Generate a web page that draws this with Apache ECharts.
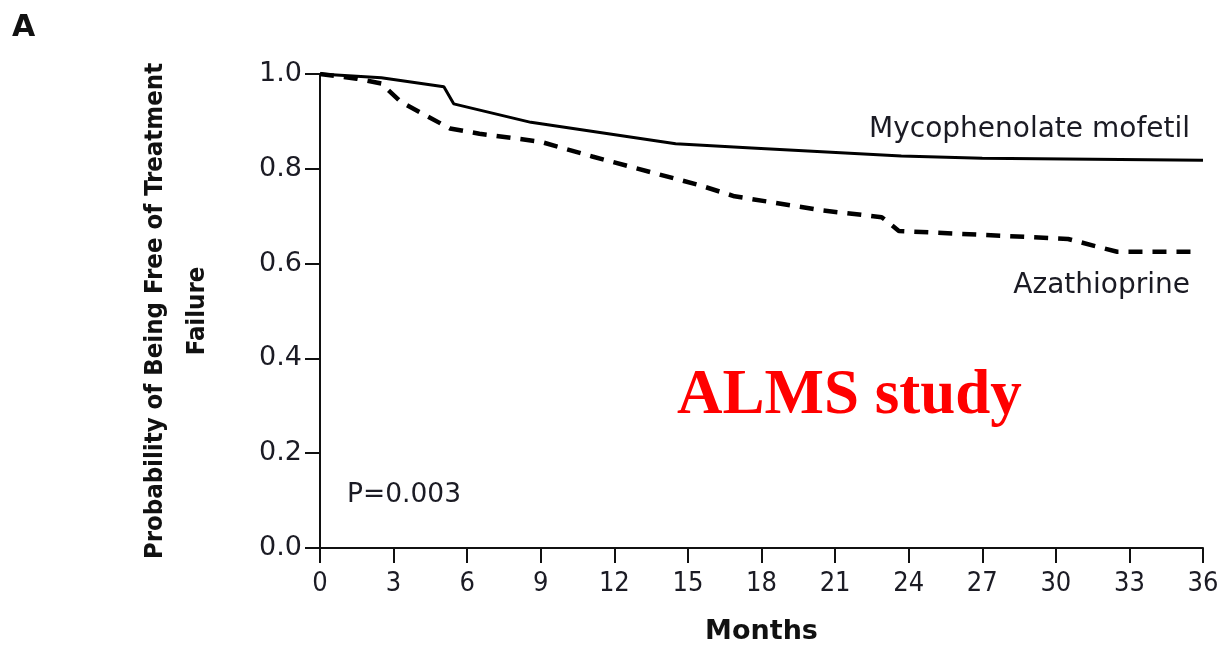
<!DOCTYPE html>
<html>
<head>
<meta charset="utf-8">
<script src="https://cdn.jsdelivr.net/npm/echarts@6/dist/echarts.min.js"></script>
<style>
  html, body { margin: 0; padding: 0; background: #fff; }
  #chart { width: 1222px; height: 650px; }
</style>
</head>
<body>
<div id="chart"></div>
<script>
// Kaplan-Meier style curves: [month, probability free of treatment failure]
const mycophenolate = [
  [0, 1.0], [2.5, 0.992], [5.05, 0.973], [5.45, 0.937], [8.6, 0.898],
  [14.5, 0.853], [17.6, 0.844], [23.7, 0.827], [27, 0.822], [36, 0.818]
];
const azathioprine = [
  [0, 1.0], [1.5, 0.99], [2.5, 0.98], [3.3, 0.941], [5.3, 0.885],
  [6.5, 0.874], [9.0, 0.857], [11.1, 0.826], [15.5, 0.765], [16.9, 0.742],
  [20.5, 0.712], [22.9, 0.698], [23.6, 0.669], [30.5, 0.652], [31.6, 0.637],
  [32.5, 0.625], [35.5, 0.625]
];
const seriesNames = ['Mycophenolate mofetil', 'Azathioprine'];
const xTicks = { min: 0, max: 36, step: 3 };
const yTicks = { min: 0, max: 1, step: 0.2 };

const inkColor = '#1b1b24';
const narrow = '"DejaVu Sans Condensed", "Liberation Sans Narrow", "Liberation Sans", sans-serif';
const chart = echarts.init(document.getElementById('chart'), null, { renderer: 'canvas' });

chart.setOption({
  animation: false,
  backgroundColor: '#ffffff',
  grid: { left: 320, right: 19, top: 74, bottom: 99 },
  xAxis: {
    type: 'value',
    min: xTicks.min, max: xTicks.max, interval: xTicks.step,
    name: 'Months',
    nameLocation: 'middle',
    nameGap: 70,
    nameTextStyle: { fontFamily: 'DejaVu Sans', fontWeight: 'bold', fontSize: 27, color: '#111' },
    axisLine: { lineStyle: { color: '#111', width: 2 } },
    axisTick: { length: 15, lineStyle: { color: '#111', width: 2 } },
    axisLabel: { fontFamily: narrow, fontSize: 27, color: inkColor, margin: 22 },
    splitLine: { show: false }
  },
  yAxis: {
    type: 'value',
    min: yTicks.min, max: yTicks.max, interval: yTicks.step,
    name: 'Probability of Being Free of Treatment\nFailure',
    nameLocation: 'middle',
    nameRotate: 90,
    nameGap: 102,
    nameTextStyle: { fontFamily: narrow, fontWeight: 'bold', fontSize: 25.5, color: '#111', lineHeight: 42 },
    axisLine: { show: true, lineStyle: { color: '#111', width: 2 } },
    axisTick: { show: true, length: 15, lineStyle: { color: '#111', width: 2 } },
    axisLabel: {
      fontFamily: 'DejaVu Sans', fontSize: 27, color: inkColor, margin: 18,
      formatter: v => v.toFixed(1)
    },
    splitLine: { show: false }
  },
  series: [
    {
      name: seriesNames[0],
      type: 'line',
      data: mycophenolate,
      showSymbol: false,
      lineStyle: { color: '#000', width: 3 }
    },
    {
      name: seriesNames[1],
      type: 'line',
      data: azathioprine,
      showSymbol: false,
      lineStyle: { color: '#000', width: 4.5, type: [14, 10] }
    }
  ],
  graphic: [
    { type: 'text', left: 12, top: 13,
      style: { text: 'A', font: 'bold 30px "DejaVu Sans"', fill: '#111' } },
    { type: 'text', right: 32, top: 116,
      style: { text: seriesNames[0], font: '28px "DejaVu Sans"', fill: inkColor } },
    { type: 'text', right: 32, top: 272,
      style: { text: seriesNames[1], font: '28px "DejaVu Sans"', fill: inkColor } },
    { type: 'text', left: 347, top: 482,
      style: { text: 'P=0.003', font: '26.5px "DejaVu Sans"', fill: inkColor } },
    { type: 'text', left: 677, top: 365,
      style: { text: 'ALMS study', font: 'bold 63px "Liberation Serif"', fill: '#ff0000' } }
  ]
});
</script>
</body>
</html>
